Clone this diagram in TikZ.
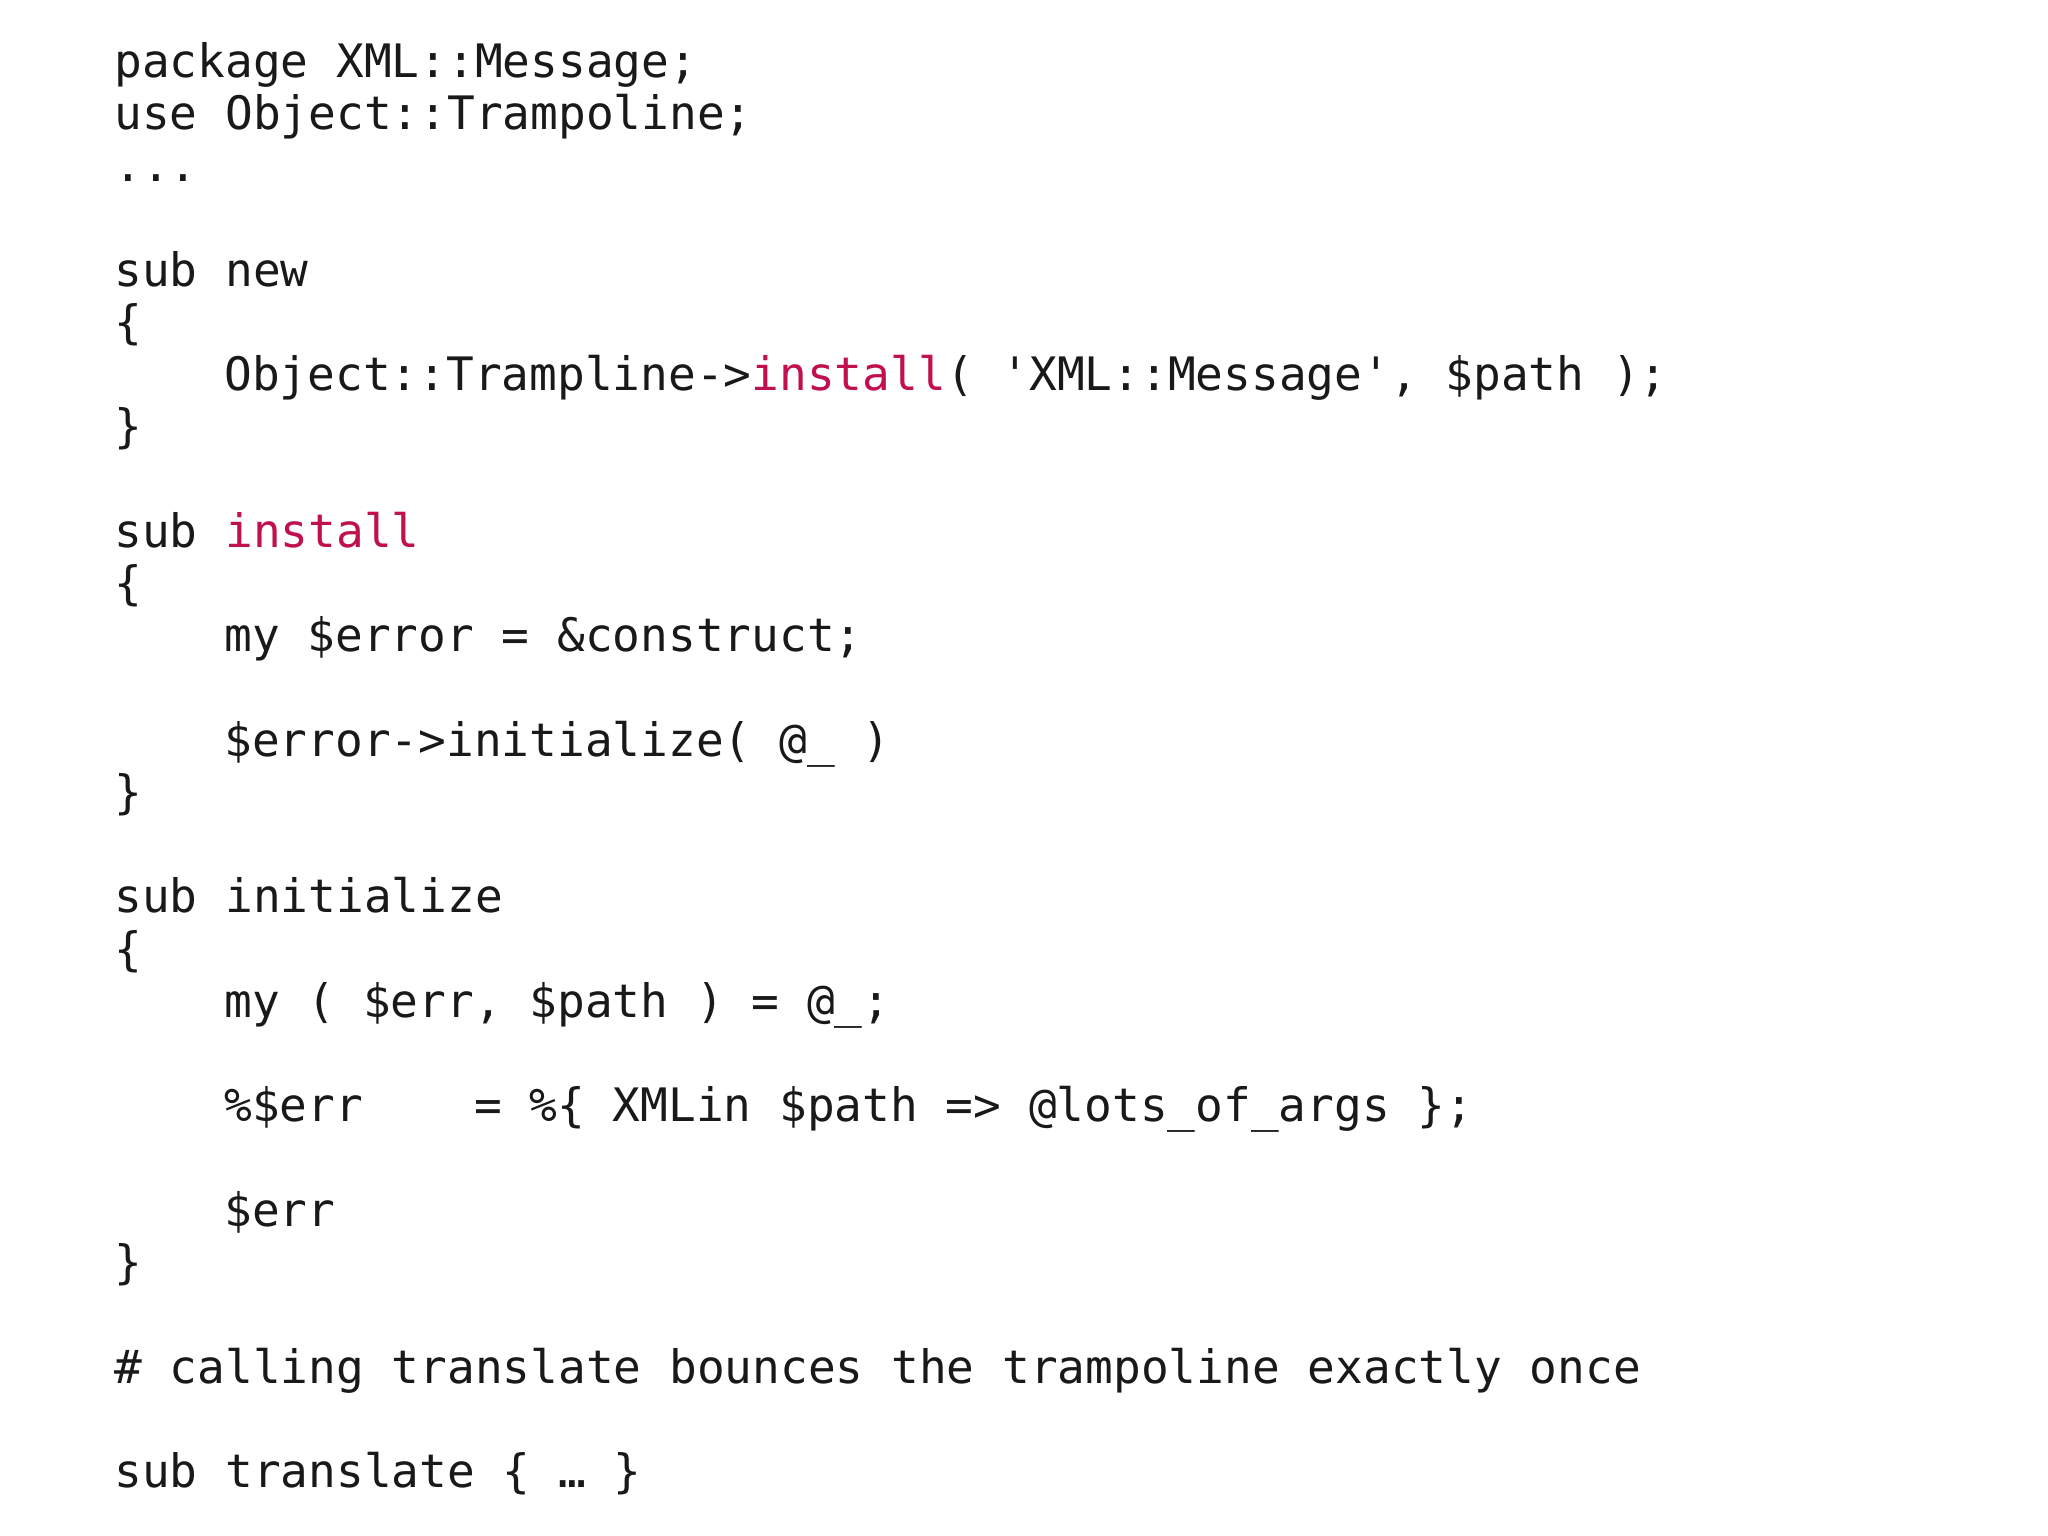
\documentclass[tikz,border=0pt]{standalone}
\usepackage{fontspec}
\setmonofont{DejaVu Sans Mono}
\definecolor{kw}{HTML}{C0104F}
\begin{document}
\begin{tikzpicture}[x=0.5pt,y=-0.5pt,
  code/.style={anchor=base west,inner sep=0pt,font=\ttfamily\fontsize{23.05}{27}\selectfont,text=black!90}]
\useasboundingbox[fill=white] (0,0) rectangle (2048,1535);
\def\bx{114}
\def\ix{224}
\node[code] (l0) at (\bx,{1.306*(59+40*0)}) {package\ XML::Message;};
\node[code] (l1) at (\bx,{1.306*(59+40*1)}) {use\ Object::Trampoline;};
\node[code] (l2) at (\bx,{1.306*(59+40*2)}) {...};
\node[code] (l4) at (\bx,{1.306*(59+40*4)}) {sub\ new};
\node[code] (l5) at (\bx,{1.306*(59+40*5)}) {\{};
\node[code] (l6) at (\ix,{1.306*(59+40*6)}) {Object::Trampline->\textcolor{kw}{install}(\ 'XML::Message',\ \$path\ );};
\node[code] (l7) at (\bx,{1.306*(59+40*7)}) {\}};
\node[code] (l9) at (\bx,{1.306*(59+40*9)}) {sub\ \textcolor{kw}{install}};
\node[code] (l10) at (\bx,{1.306*(59+40*10)}) {\{};
\node[code] (l11) at (\ix,{1.306*(59+40*11)}) {my\ \$error\ =\ \&construct;};
\node[code] (l13) at (\ix,{1.306*(59+40*13)}) {\$error->initialize(\ @\_\ )};
\node[code] (l14) at (\bx,{1.306*(59+40*14)}) {\}};
\node[code] (l16) at (\bx,{1.306*(59+40*16)}) {sub\ initialize};
\node[code] (l17) at (\bx,{1.306*(59+40*17)}) {\{};
\node[code] (l18) at (\ix,{1.306*(59+40*18)}) {my\ (\ \$err,\ \$path\ )\ =\ @\_;};
\node[code] (l20) at (\ix,{1.306*(59+40*20)}) {\%\$err\ \ \ \ =\ \%\{\ XMLin\ \$path\ =>\ @lots\_of\_args\ \};};
\node[code] (l22) at (\ix,{1.306*(59+40*22)}) {\$err};
\node[code] (l23) at (\bx,{1.306*(59+40*23)}) {\}};
\node[code] (l25) at (\bx,{1.306*(59+40*25)}) {\#\ calling\ translate\ bounces\ the\ trampoline\ exactly\ once};
\node[code] (l27) at (\bx,{1.306*(59+40*27)}) {sub\ translate\ \{\ …\ \}};
\end{tikzpicture}
\end{document}
